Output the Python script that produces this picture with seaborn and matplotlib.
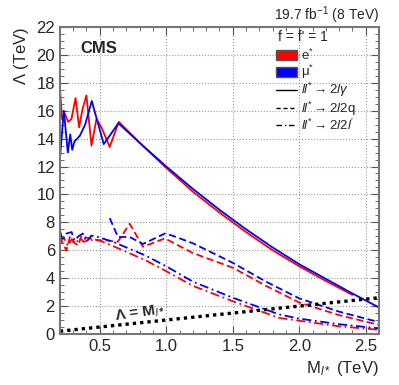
import pandas as pd
import seaborn as sns
import matplotlib.pyplot as plt
from matplotlib.patches import Patch
from matplotlib.lines import Line2D
from matplotlib.ticker import MultipleLocator

sns.set_style('ticks')
plt.rcParams['font.family'] = ['Liberation Sans', 'DejaVu Sans']
plt.rcParams['mathtext.fontset'] = 'custom'
plt.rcParams['mathtext.rm'] = 'Liberation Sans'
plt.rcParams['mathtext.it'] = 'Liberation Sans:italic'
plt.rcParams['mathtext.bf'] = 'Liberation Sans:bold'

# e* -> 2l gamma
m_e_gam = [0.2, 0.217, 0.237, 0.262, 0.287, 0.318, 0.345, 0.37, 0.4, 0.438, 0.475,
           0.513, 0.575, 0.643, 0.8, 1.0, 1.2, 1.4, 1.6, 1.8, 2.0, 2.2, 2.4]
l_e_gam = [17.7, 15.4, 15.8, 15.2, 15.4, 16.9, 14.8, 16.1, 17.1, 13.5, 15.4,
           14.8, 13.4, 15.2, 13.7, 11.9, 10.2, 8.7, 7.3, 6.0, 4.85, 3.8, 2.8]
# mu* -> 2l gamma
m_mu_gam = [0.2, 0.23, 0.26, 0.278, 0.293, 0.31, 0.35, 0.39, 0.44, 0.53, 0.64,
            0.8, 1.0, 1.2, 1.4, 1.6, 1.8, 2.0, 2.2, 2.4, 2.6]
l_mu_gam = [12.5, 16.0, 13.0, 14.3, 13.2, 13.8, 14.2, 15.0, 16.7, 13.6, 15.1,
            13.7, 12.0, 10.4, 8.9, 7.5, 6.2, 5.0, 3.95, 2.9, 1.9]
# e* -> 2l 2q
m_e_qq = [0.2, 0.225, 0.25, 0.275, 0.3, 0.337, 0.363, 0.4, 0.45, 0.5, 0.56,
          0.635, 0.725, 0.825, 0.99, 1.2, 1.5, 1.75, 2.0, 2.3, 2.6]
l_e_qq = [6.95, 6.4, 6.0, 6.95, 6.6, 6.35, 7.05, 6.9, 6.8, 6.7, 6.7,
          6.6, 7.9, 6.25, 6.85, 5.8, 4.75, 3.45, 2.25, 1.35, 0.65]
# mu* -> 2l 2q
m_mu_qq = [0.575, 0.637, 0.725, 0.825, 0.99, 1.06, 1.2, 1.5, 1.75, 2.0, 2.3, 2.6]
l_mu_qq = [8.3, 6.95, 6.95, 6.45, 7.2, 7.0, 6.5, 5.1, 3.75, 2.55, 1.6, 0.85]
# e* -> 2l 2l'
m_e_ll = [0.2, 0.23, 0.26, 0.29, 0.32, 0.35, 0.38, 0.41, 0.45, 0.5, 0.6,
          0.84, 1.0, 1.2, 1.5, 1.85, 2.0, 2.3, 2.6]
l_e_ll = [6.6, 6.9, 6.3, 6.8, 6.5, 6.9, 6.6, 6.7, 6.75, 6.7, 6.3,
          5.3, 4.5, 3.45, 2.35, 1.15, 0.95, 0.55, 0.3]
# mu* -> 2l 2l'
m_mu_ll = [0.2, 0.22, 0.25, 0.288, 0.31, 0.34, 0.373, 0.4, 0.437, 0.487, 0.6,
           0.838, 1.0, 1.2, 1.5, 1.85, 2.0, 2.3, 2.6]
l_mu_ll = [7.45, 6.7, 7.2, 7.3, 6.7, 7.0, 7.2, 6.6, 7.05, 6.95, 6.6,
           5.65, 4.85, 3.75, 2.6, 1.4, 1.1, 0.7, 0.4]
# Lambda = M
m_diag = [0.2, 2.6]

series = [
    ('e', 'gam', m_e_gam, l_e_gam), ('mu', 'gam', m_mu_gam, l_mu_gam),
    ('e', 'qq', m_e_qq, l_e_qq), ('mu', 'qq', m_mu_qq, l_mu_qq),
    ('e', 'll', m_e_ll, l_e_ll), ('mu', 'll', m_mu_ll, l_mu_ll),
]
frames = []
for lep, ch, m, l in series:
    frames.append(pd.DataFrame({'mass': m, 'lam': l, 'lepton': lep,
                                'channel': ch, 'series': lep + ch}))
df = pd.concat(frames, ignore_index=True)

fig = plt.figure(figsize=(3.99, 3.85), dpi=100)
ax = fig.add_axes([0.150, 0.1325, 0.800, 0.7975])

palette = {'e': '#ff0000', 'mu': '#0000ff'}
dashes = {'gam': '', 'qq': (4, 2), 'll': (5, 2, 1, 2)}
sns.lineplot(data=df, x='mass', y='lam', hue='lepton', style='channel',
             units='series', estimator=None, sort=False, palette=palette,
             dashes=dashes, legend=False, lw=1.3, ax=ax)
ax.plot(m_diag, m_diag, color='black', ls=(0, (1, 1.2)), lw=2.4)
ax.text(0.8, 1.5, r'$\mathbf{\Lambda}$ = M$_{\mathbf{\mathit{l}*}}$', fontsize=11,
        fontweight='bold', rotation=8, ha='center', va='center')

ax.set_xlim(0.2, 2.6)
ax.set_ylim(0, 22)
ax.xaxis.set_major_locator(MultipleLocator(0.5))
ax.xaxis.set_minor_locator(MultipleLocator(0.1))
ax.yaxis.set_major_locator(MultipleLocator(2))
ax.yaxis.set_minor_locator(MultipleLocator(0.5))
ax.tick_params(which='both', direction='in', top=True, right=True, labelsize=12,
               color='#555555')
ax.tick_params(which='major', length=6)
ax.tick_params(which='minor', length=3)
ax.grid(True, which='major', ls=':', color='#999999', lw=0.8)
for s in ax.spines.values():
    s.set_color('#777777')
    s.set_linewidth(1.5)

ax.set_xlabel(r'M$_{\mathit{l*}}$ (TeV)', loc='right', fontsize=12)
ax.set_ylabel(r'$\Lambda$ (TeV)', loc='top', fontsize=12)
ax.set_title(r'19.7 fb$^{-1}$ (8 TeV)', loc='right', fontsize=10, pad=5)
ax.text(0.063, 0.955, 'CMS', transform=ax.transAxes, fontsize=12,
        fontweight='bold', va='top')
ax.text(0.683, 0.967, "f = f' = 1", transform=ax.transAxes, fontsize=10,
        va='center', ha='left')

handles = [
    Patch(facecolor='#ff0000', edgecolor='#555555', label='e$^{*}$'),
    Patch(facecolor='#0000ff', edgecolor='#555555', label='\u03bc$^{*}$'),
    Line2D([], [], color='black', lw=1, label=r'$ll^{*}\rightarrow 2l\gamma$'),
    Line2D([], [], color='black', lw=1, ls=(0, (3, 2)),
           label=r'$ll^{*}\rightarrow 2l2\mathrm{q}$'),
    Line2D([], [], color='black', lw=1, ls=(0, (4, 2, 1, 2)),
           label=r"$ll^{*}\rightarrow 2l2l'$"),
]
ax.legend(handles=handles, loc='upper left', bbox_to_anchor=(0.665, 0.945),
          frameon=False, fontsize=9.5, handlelength=1.6, handleheight=0.8,
          handletextpad=0.3, labelspacing=0.0, borderaxespad=0.2,
          borderpad=0.1)

plt.savefig('out.png', dpi=100)
